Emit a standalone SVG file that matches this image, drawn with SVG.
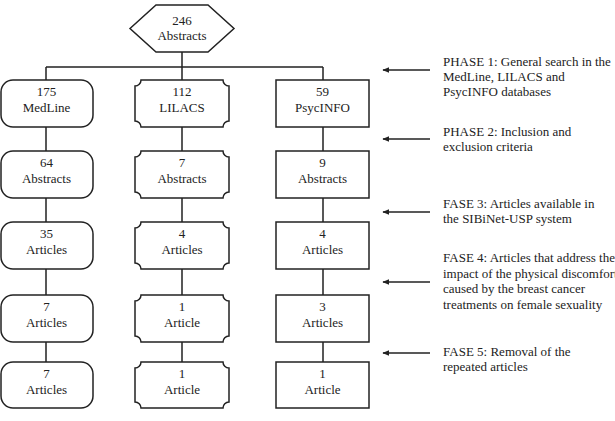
<svg xmlns="http://www.w3.org/2000/svg" width="615" height="421" viewBox="0 0 615 421">
<defs>
<style>
.s{fill:#fff;stroke:#222;stroke-width:1.5}
.c{fill:none;stroke:#222;stroke-width:1.5}
.a{fill:none;stroke:#222;stroke-width:1.3}
text{font-family:"Liberation Serif","Times New Roman",serif;font-size:13px;fill:#222}
.m{text-anchor:middle}
</style>
<marker id="ah" viewBox="0 0 10 10" refX="9" refY="5" markerWidth="7" markerHeight="6" markerUnits="userSpaceOnUse" orient="auto" preserveAspectRatio="none">
<path d="M0,0 L10,5 L0,10 Z" fill="#222"/>
</marker>
</defs>
<rect width="615" height="421" fill="#fff"/>
<g id="connectors">
<path class="c" d="M182,52 V67 M46,67 H323 M46,67 V80 M182,67 V80 M323,67 V80"/>
<path class="c" d="M46,127 V151 M46,198 V222 M46,269 V295 M46,342 V362"/>
<path class="c" d="M182,127 V151 M182,198 V222 M182,269 V295 M182,342 V362"/>
<path class="c" d="M323,127 V151 M323,198 V222 M323,269 V295 M323,342 V362"/>
<g id="phase-arrows">
<line class="a" x1="430" y1="70" x2="383" y2="70" marker-end="url(#ah)"/>
<line class="a" x1="430" y1="139" x2="383" y2="139" marker-end="url(#ah)"/>
<line class="a" x1="430" y1="212" x2="383" y2="212" marker-end="url(#ah)"/>
<line class="a" x1="430" y1="282" x2="383" y2="282" marker-end="url(#ah)"/>
<line class="a" x1="430" y1="353" x2="383" y2="353" marker-end="url(#ah)"/>
</g>
</g>
<g id="n-total">
<polygon class="s" points="130,28.5 156,5 208,5 234,28.5 208,52 156,52"/>
<text class="m" x="182" y="24.5">246</text>
<text class="m" x="182" y="40">Abstracts</text>
</g>
<g id="n-medline-1"><rect class="s" x="1" y="80" width="92" height="47" rx="12"/><text class="m" x="46.5" y="96">175</text><text class="m" x="46.5" y="112">MedLine</text></g>
<g id="n-medline-2"><rect class="s" x="1" y="151" width="92" height="47" rx="12"/><text class="m" x="46.5" y="167">64</text><text class="m" x="46.5" y="183">Abstracts</text></g>
<g id="n-medline-3"><rect class="s" x="1" y="222" width="92" height="47" rx="12"/><text class="m" x="46.5" y="238">35</text><text class="m" x="46.5" y="254">Articles</text></g>
<g id="n-medline-4"><rect class="s" x="1" y="295" width="92" height="47" rx="12"/><text class="m" x="46.5" y="311">7</text><text class="m" x="46.5" y="327">Articles</text></g>
<g id="n-medline-5"><rect class="s" x="1" y="362" width="92" height="46" rx="12"/><text class="m" x="46.5" y="378">7</text><text class="m" x="46.5" y="394">Articles</text></g>

<g id="n-lilacs-1"><path class="s" d="M141,80 H223 A6,6 0 0 0 229,86 V121 A6,6 0 0 0 223,127 H141 A6,6 0 0 0 135,121 V86 A6,6 0 0 0 141,80 Z"/><text class="m" x="182" y="96">112</text><text class="m" x="182" y="112">LILACS</text></g>
<g id="n-lilacs-2"><path class="s" d="M141,151 H223 A6,6 0 0 0 229,157 V192 A6,6 0 0 0 223,198 H141 A6,6 0 0 0 135,192 V157 A6,6 0 0 0 141,151 Z"/><text class="m" x="182" y="167">7</text><text class="m" x="182" y="183">Abstracts</text></g>
<g id="n-lilacs-3"><path class="s" d="M141,222 H223 A6,6 0 0 0 229,228 V263 A6,6 0 0 0 223,269 H141 A6,6 0 0 0 135,263 V228 A6,6 0 0 0 141,222 Z"/><text class="m" x="182" y="238">4</text><text class="m" x="182" y="254">Articles</text></g>
<g id="n-lilacs-4"><path class="s" d="M141,295 H223 A6,6 0 0 0 229,301 V336 A6,6 0 0 0 223,342 H141 A6,6 0 0 0 135,336 V301 A6,6 0 0 0 141,295 Z"/><text class="m" x="182" y="311">1</text><text class="m" x="182" y="327">Article</text></g>
<g id="n-lilacs-5"><path class="s" d="M141,362 H223 A6,6 0 0 0 229,368 V402 A6,6 0 0 0 223,408 H141 A6,6 0 0 0 135,402 V368 A6,6 0 0 0 141,362 Z"/><text class="m" x="182" y="378">1</text><text class="m" x="182" y="394">Article</text></g>

<g id="n-psyc-1"><rect class="s" x="276" y="80" width="93" height="47"/><text class="m" x="322.5" y="96">59</text><text class="m" x="322.5" y="112">PsycINFO</text></g>
<g id="n-psyc-2"><rect class="s" x="276" y="151" width="93" height="47"/><text class="m" x="322.5" y="167">9</text><text class="m" x="322.5" y="183">Abstracts</text></g>
<g id="n-psyc-3"><rect class="s" x="276" y="222" width="93" height="47"/><text class="m" x="322.5" y="238">4</text><text class="m" x="322.5" y="254">Articles</text></g>
<g id="n-psyc-4"><rect class="s" x="276" y="295" width="93" height="47"/><text class="m" x="322.5" y="311">3</text><text class="m" x="322.5" y="327">Articles</text></g>
<g id="n-psyc-5"><rect class="s" x="276" y="362" width="93" height="46"/><text class="m" x="322.5" y="378">1</text><text class="m" x="322.5" y="394">Article</text></g>

<g id="phase-1"><text x="443" y="66">PHASE 1: General search in the</text><text x="443" y="81">MedLine, LILACS and</text><text x="443" y="96">PsycINFO databases</text></g>
<g id="phase-2"><text x="443" y="136">PHASE 2: Inclusion and</text><text x="443" y="151">exclusion criteria</text></g>
<g id="phase-3"><text x="443" y="208">FASE 3: Articles available in</text><text x="443" y="223">the SIBiNet-USP system</text></g>
<g id="phase-4"><text x="443" y="262">FASE 4: Articles that address the</text><text x="443" y="277.5">impact of the physical discomfort</text><text x="443" y="293">caused by the breast cancer</text><text x="443" y="308.5">treatments on female sexuality</text></g>
<g id="phase-5"><text x="443" y="356">FASE 5: Removal of the</text><text x="443" y="371">repeated articles</text></g>
</svg>
